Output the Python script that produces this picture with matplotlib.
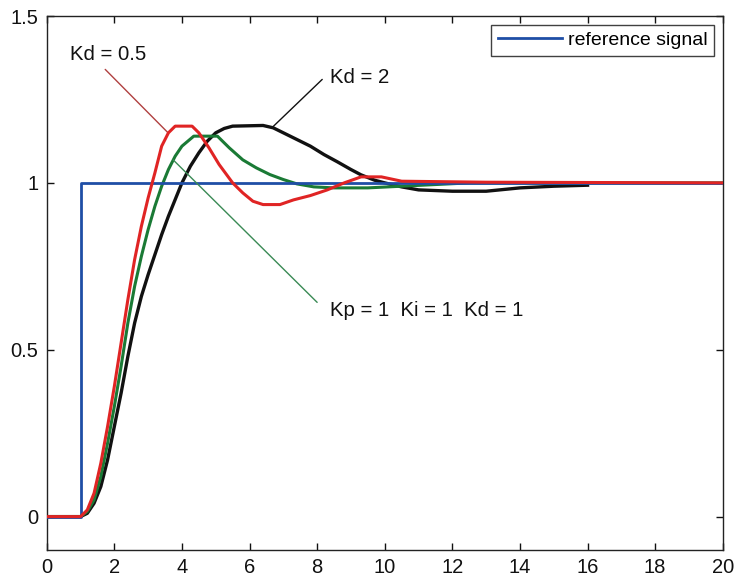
import matplotlib
matplotlib.use("Agg")
import matplotlib.pyplot as plt

plt.rcParams['font.family'] = ['Liberation Sans', 'DejaVu Sans']

# Reference step signal
t_ref = [0, 1, 1, 20]
y_ref = [0, 0, 1, 1]

# Kd = 0.5 (red)
t_kd05 = [0, 1.0, 1.2, 1.4, 1.6, 1.8, 2.0, 2.2, 2.4, 2.6, 2.8, 3.0, 3.2, 3.4, 3.6, 3.8,
          4.3, 4.5, 4.8, 5.1, 5.5, 5.8, 6.1, 6.4, 6.9, 7.3, 7.8, 8.3, 8.8, 9.3, 9.9,
          10.5, 13.0, 20]
y_kd05 = [0, 0.0, 0.02, 0.07, 0.16, 0.27, 0.39, 0.52, 0.65, 0.77, 0.87, 0.955, 1.03, 1.11, 1.15, 1.17,
          1.17, 1.15, 1.105, 1.055, 1.0, 0.97, 0.945, 0.935, 0.935, 0.949, 0.962, 0.979, 1.0, 1.018, 1.018,
          1.005, 1.002, 1.0]

# Kp = 1, Ki = 1, Kd = 1 (green)
t_kd1 = [0, 1.0, 1.2, 1.4, 1.6, 1.8, 2.0, 2.2, 2.4, 2.6, 2.8, 3.0, 3.2, 3.4, 3.6, 3.8, 4.0,
         4.35, 5.05, 5.4, 5.8, 6.2, 6.6, 7.0, 7.4, 7.9, 8.5, 9.5, 10.5, 11.5, 12.5, 20]
y_kd1 = [0, 0.0, 0.015, 0.05, 0.12, 0.22, 0.33, 0.45, 0.58, 0.69, 0.78, 0.86, 0.93, 0.99, 1.04, 1.08, 1.11,
         1.14, 1.14, 1.105, 1.069, 1.045, 1.025, 1.01, 0.997, 0.988, 0.985, 0.985, 0.99, 0.995, 1.0, 1.0]

# Kd = 2 (black)
t_kd2 = [0, 1.0, 1.2, 1.4, 1.6, 1.8, 2.0, 2.2, 2.4, 2.6, 2.8, 3.0, 3.2, 3.4, 3.6, 3.8, 4.0,
         4.25, 4.5, 4.75, 5.0, 5.25, 5.5, 6.4, 6.7, 7.0, 7.4, 7.8, 8.2, 8.6, 9.0, 9.3, 9.7,
         10.0, 10.5, 11.0, 12.0, 13.0, 13.5, 14.0, 15.0, 16.0]
y_kd2 = [0, 0.0, 0.01, 0.04, 0.09, 0.17, 0.27, 0.37, 0.48, 0.58, 0.66, 0.725, 0.785, 0.845, 0.90, 0.95, 1.0,
         1.05, 1.09, 1.125, 1.15, 1.163, 1.17, 1.172, 1.165, 1.15, 1.13, 1.11, 1.085, 1.063, 1.04, 1.024, 1.008,
         1.0, 0.988, 0.979, 0.975, 0.975, 0.98, 0.985, 0.99, 0.993]

x_ticks = list(range(0, 21, 2))
y_ticks = [0, 0.5, 1, 1.5]
y_ticklabels = ['0', '0.5', '1', '1.5']

fig = plt.figure(figsize=(7.36, 5.82), dpi=100)
ax = fig.add_axes([0.0635, 0.055, 0.9185, 0.9175])

ax.plot(t_ref, y_ref, color='#1f4ea6', lw=2.0, label='reference signal', zorder=3)
ax.plot(t_kd2, y_kd2, color='#111111', lw=2.4, zorder=2)
ax.plot(t_kd1, y_kd1, color='#1a7a35', lw=2.2, zorder=2.5)
ax.plot(t_kd05, y_kd05, color='#e02424', lw=2.2, zorder=4)

ax.set_xlim(0, 20)
ax.set_ylim(-0.1, 1.5)
ax.set_xticks(x_ticks)
ax.set_yticks(y_ticks)
ax.set_yticklabels(y_ticklabels)
ax.tick_params(direction='in', top=True, right=True, length=5, width=1,
               labelsize=14.5, pad=6, colors='#111111')
for s in ax.spines.values():
    s.set_linewidth(1.0)
    s.set_color('#222222')

# annotations
ax.text(1.81, 1.385, 'Kd = 0.5', fontsize=14.7, ha='center', va='center', color='#111111')
ax.annotate('', xy=(3.59, 1.15), xytext=(1.73, 1.34),
            arrowprops=dict(arrowstyle='-', color='#b04040', lw=1.0, shrinkA=0, shrinkB=0))

ax.text(8.38, 1.316, 'Kd = 2', fontsize=14.7, ha='left', va='center', color='#111111')
ax.annotate('', xy=(6.69, 1.168), xytext=(8.15, 1.31),
            arrowprops=dict(arrowstyle='-', color='#111111', lw=1.0, shrinkA=0, shrinkB=0))

ax.text(8.38, 0.618, 'Kp = 1  Ki = 1  Kd = 1', fontsize=14.7, ha='left', va='center', color='#111111')
ax.annotate('', xy=(3.74, 1.069), xytext=(8.0, 0.642),
            arrowprops=dict(arrowstyle='-', color='#3a8a55', lw=1.0, shrinkA=0, shrinkB=0))

leg = ax.legend(loc='upper right', fontsize=14, handlelength=3.3, handletextpad=0.3,
                borderaxespad=0.45, fancybox=False, frameon=True, borderpad=0.35)
leg.get_frame().set_edgecolor('#111111')
leg.get_frame().set_linewidth(1.0)

fig.savefig('out.png', dpi=100)
